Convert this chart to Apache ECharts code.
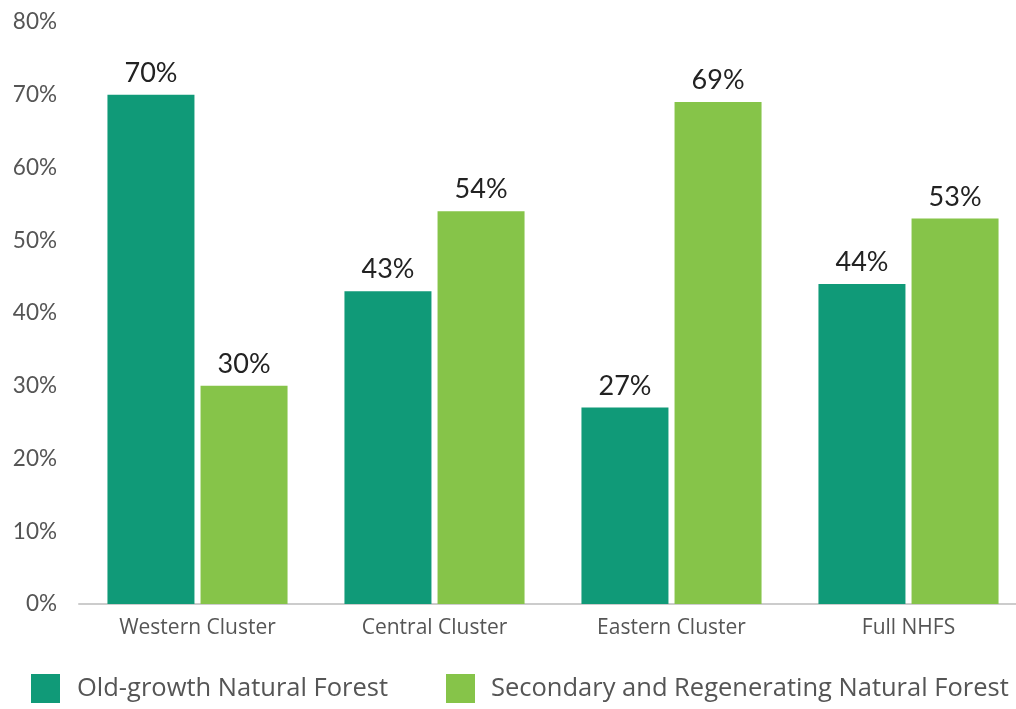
<!DOCTYPE html>
<html><head><meta charset="utf-8">
<script src="https://cdn.jsdelivr.net/npm/echarts@6/dist/echarts.min.js"></script>
<style>html,body{margin:0;padding:0;background:#fff}#c{width:1016px;height:709px}</style>
</head><body><div id="c"></div>
<script>
const categories = ['Western Cluster', 'Central Cluster', 'Eastern Cluster', 'Full NHFS'];
const oldGrowth = [70, 43, 27, 44];
const secondary = [30, 54, 69, 53];
const seriesNames = ['Old-growth Natural Forest', 'Secondary and Regenerating Natural Forest'];
const yTicks = [0, 10, 20, 30, 40, 50, 60, 70, 80];

const chart = echarts.init(document.getElementById('c'));
const labelStyle = {show: true, position: 'top', distance: 8, formatter: '{c}%', fontSize: 27, color: '#222', fontFamily: 'Lato'};
chart.setOption({
  animation: false,
  grid: {left: 79, top: 22, width: 948, height: 582, outerBoundsMode: 'none', containLabel: false},
  xAxis: {type: 'category', data: categories,
    axisLine: {lineStyle: {color: '#cccccc', width: 2}}, axisTick: {show: false},
    axisLabel: {fontSize: 21, color: '#555', fontFamily: 'Open Sans', margin: 14}},
  yAxis: {type: 'value', min: yTicks[0], max: yTicks[yTicks.length-1], interval: 10,
    splitLine: {show: false}, axisLine: {show: false}, axisTick: {show: false},
    axisLabel: {formatter: '{value}%', fontSize: 22.5, color: '#555', fontFamily: 'Lato', margin: 22}},
  legend: [
    {data: [seriesNames[0]], left: 31, top: 674, padding: 0, itemWidth: 29, itemHeight: 29, icon: 'rect',
     textStyle: {fontSize: 25.5, color: '#555', fontFamily: 'Open Sans', padding: [5,0,0,12]}},
    {data: [seriesNames[1]], left: 446, top: 674, padding: 0, itemWidth: 29, itemHeight: 29, icon: 'rect',
     textStyle: {fontSize: 25.5, color: '#555', fontFamily: 'Open Sans', padding: [5,0,0,11]}}
  ],
  series: [
    {name: seriesNames[0], type: 'bar', data: oldGrowth, barWidth: 87, barGap: '7%',
     itemStyle: {color: '#109a78'}, label: labelStyle},
    {name: seriesNames[1], type: 'bar', data: secondary, barWidth: 87,
     itemStyle: {color: '#86c449'}, label: labelStyle}
  ]
});
</script></body></html>
